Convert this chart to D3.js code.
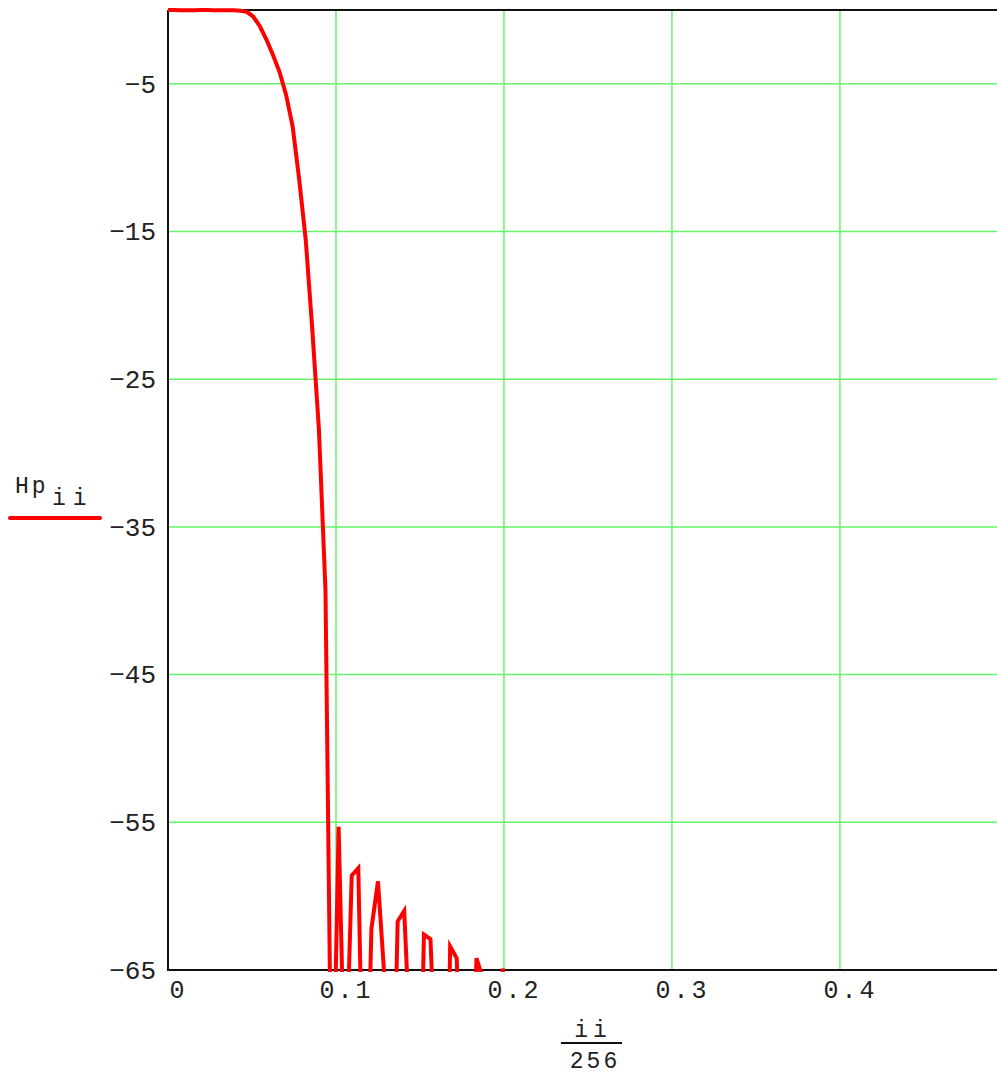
<!DOCTYPE html>
<html>
<head>
<meta charset="utf-8">
<script src="https://cdn.jsdelivr.net/npm/d3@7"></script>
<style>
  body { margin: 0; background: #fff; }
  svg { display: block; }
  text { font-family: "Liberation Mono", "Courier New", monospace; fill: #222; }
</style>
</head>
<body>
<div id="chart"></div>
<script>
// Hp(ii) in dB, one value per sample ii = 0..63, plotted against ii/256
const hp = [
  0, 0, -0.01, -0.02, -0.01, 0, 0, -0.01, -0.02, -0.02,
  -0.02, -0.05, -0.12, -0.45, -1.1, -2.0, -3.05, -4.2, -5.75, -7.9,
  -11.5, -15.6, -21.7, -28.4, -39.3, -78, -55.3, -74, -58.6, -58.1,
  -80, -62.2, -59.0, -65.6, -82, -61.7, -61.0, -71, -85, -62.6,
  -62.9, -74, -88, -63.4, -64.2, -78, -90, -64.2, -65.6, -84,
  -95, -64.9, -70, -88, -96, -72, -70, -86, -99, -75,
  -73, -90, -100, -78
];
const xTicks = [0, 0.1, 0.2, 0.3, 0.4];
const yTicks = [-5, -15, -25, -35, -45, -55, -65];
const yGrid = [-5, -15, -25, -35, -45, -55];
const xMax = 0.4935;

(function() {
    const width = 997, height = 1076;
    const left = 168, right = 997, top = 10, bottom = 970;

    const svg = d3.select("#chart").append("svg")
        .attr("width", width)
        .attr("height", height);

    const x = d3.scaleLinear().domain([0, xMax]).range([left, right]);
    const y = d3.scaleLinear().domain([0, -65]).range([top, bottom]);

    // grid
    const grid = svg.append("g").attr("stroke", "#66f566").attr("stroke-width", 1.5);
    grid.selectAll("line.v")
        .data(xTicks.filter(d => d > 0)).join("line")
        .attr("x1", d => x(d)).attr("x2", d => x(d))
        .attr("y1", top).attr("y2", bottom);
    grid.selectAll("line.h")
        .data(yGrid).join("line")
        .attr("x1", left).attr("x2", right)
        .attr("y1", d => y(d)).attr("y2", d => y(d));

    // frame: left, top, bottom
    const frame = svg.append("g").attr("stroke", "#111").attr("stroke-width", 2);
    frame.append("line").attr("x1", left).attr("x2", left).attr("y1", top).attr("y2", bottom + 1);
    frame.append("line").attr("x1", left).attr("x2", right).attr("y1", top).attr("y2", top);
    frame.append("line").attr("x1", left).attr("x2", right).attr("y1", bottom).attr("y2", bottom);

    // y labels
    svg.append("g")
        .attr("transform", `translate(${left},0)`)
        .call(d3.axisLeft(y).tickValues(yTicks).tickSize(0).tickPadding(12).tickFormat(d3.format("d")))
        .call(g => g.select(".domain").remove())
        .call(g => g.selectAll("text")
            .style("font-family", "'Liberation Mono', monospace")
            .attr("font-size", 26).attr("fill", "#222"));

    // x labels
    svg.append("g")
        .attr("transform", `translate(0,${bottom})`)
        .call(d3.axisBottom(x).tickValues(xTicks).tickSize(0)
            .tickFormat(d => d === 0 ? "0" : d3.format(".1f")(d)))
        .call(g => g.select(".domain").remove())
        .call(g => g.selectAll("text")
            .style("font-family", "'Liberation Mono', monospace")
            .attr("font-size", 25).attr("fill", "#222")
            .attr("letter-spacing", 3)
            .attr("dy", null).attr("y", 28).attr("dx", 10));

    // curve, clipped to the plot box
    svg.append("clipPath").attr("id", "clip")
        .append("rect").attr("x", left).attr("y", top - 2)
        .attr("width", right - left).attr("height", bottom - top + 4);

    const line = d3.line()
        .x((d, i) => x(i / 256))
        .y(d => y(d));

    svg.append("path")
        .datum(hp)
        .attr("clip-path", "url(#clip)")
        .attr("fill", "none")
        .attr("stroke", "#ff0000")
        .attr("stroke-width", 4)
        .attr("stroke-linejoin", "miter")
        .attr("d", line);

    // y title with legend line
    const yt = svg.append("text").attr("x", 15).attr("y", 493).attr("font-size", 23);
    yt.append("tspan").attr("letter-spacing", 3).text("Hp");
    yt.append("tspan").attr("x", 52).attr("y", 505).attr("letter-spacing", 7).text("ii");
    svg.append("line")
        .attr("x1", 10).attr("x2", 100).attr("y1", 518).attr("y2", 518)
        .attr("stroke", "#ff0000").attr("stroke-width", 4).attr("stroke-linecap", "round");

    // x title: ii / 256
    svg.append("text").attr("x", 593).attr("y", 1037).attr("font-size", 23)
        .attr("text-anchor", "middle").attr("letter-spacing", 5).text("ii");
    svg.append("line")
        .attr("x1", 561).attr("x2", 622).attr("y1", 1043).attr("y2", 1043)
        .attr("stroke", "#111").attr("stroke-width", 2);
    svg.append("text").attr("x", 595).attr("y", 1068).attr("font-size", 23)
        .attr("text-anchor", "middle").attr("letter-spacing", 3).text("256");
})();
</script>
</body>
</html>
